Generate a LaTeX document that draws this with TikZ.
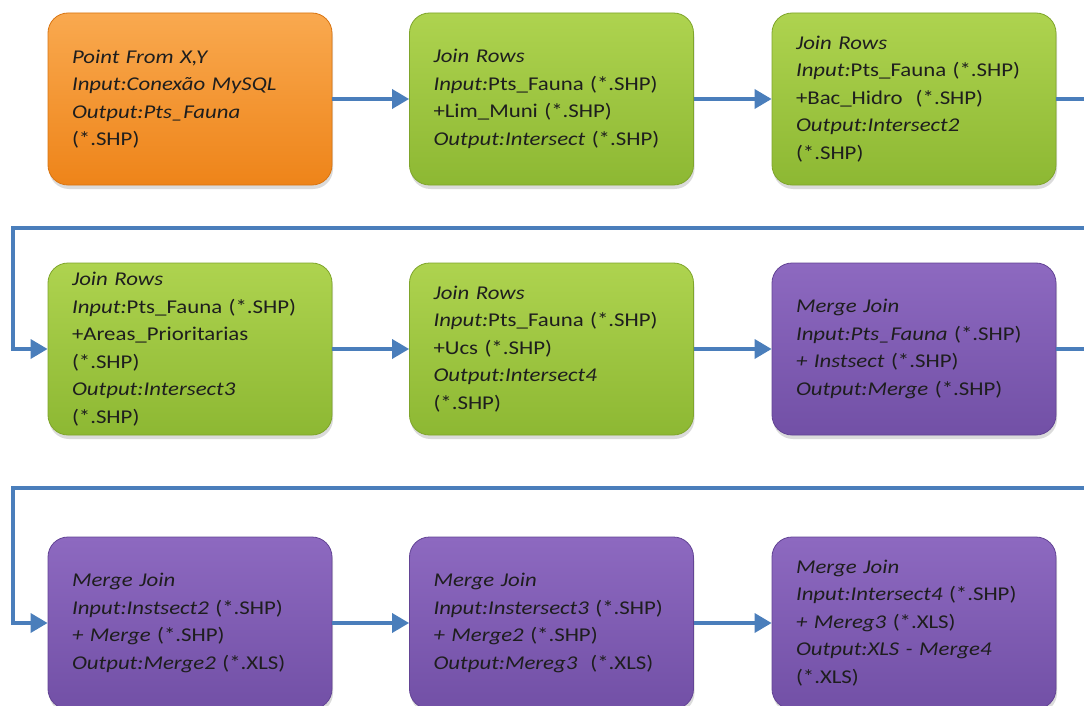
\documentclass[tikz,border=0pt]{standalone}
\usepackage{fontspec}
\setmainfont{Carlito}[FakeStretch=1.17]
\usetikzlibrary{arrows.meta,shadows}

\definecolor{flowblue}{HTML}{4A7EBB}
\definecolor{textdark}{HTML}{1E1E1E}
\definecolor{orangetop}{HTML}{F9A94F}
\definecolor{orangebot}{HTML}{EE8419}
\definecolor{orangeline}{HTML}{D97512}
\definecolor{greentop}{HTML}{AED34F}
\definecolor{greenbot}{HTML}{8DB833}
\definecolor{greenline}{HTML}{7FA52B}
\definecolor{purpletop}{HTML}{8D69C0}
\definecolor{purplebot}{HTML}{7250A6}
\definecolor{purpleline}{HTML}{634495}

\begin{document}
\begin{tikzpicture}[x=1pt,y=-1pt,
  stage/.style={rounded corners=20pt, minimum width=284pt, minimum height=172pt,
    text width=236pt, inner xsep=24pt, inner ysep=0pt, align=left,
    font=\fontsize{19.5}{27.5}\selectfont, text=textdark, line width=0.8pt,
    drop shadow={opacity=0.28, shadow xshift=1pt, shadow yshift=-4pt}},
  srcbox/.style={stage, top color=orangetop, bottom color=orangebot, draw=orangeline},
  joinbox/.style={stage, top color=greentop, bottom color=greenbot, draw=greenline},
  mergebox/.style={stage, top color=purpletop, bottom color=purplebot, draw=purpleline},
  flow/.style={draw=flowblue, line width=3.5pt, -{Triangle[length=17pt,width=19pt]}}]

\clip (0,0) rectangle (1084,706);
\fill[white] (0,0) rectangle (1084,706);

% first row
\node[srcbox] (b1) at (190,99) {\textit{Point From X,Y}\\ \textit{Input:Conexão MySQL}\\ \textit{Output:Pts\_Fauna}\\ (*.SHP)};
\node[joinbox] (b2) at (551.5,99) {\textit{Join Rows}\\ \textit{Input:}Pts\_Fauna (*.SHP)\\ +Lim\_Muni (*.SHP)\\ \textit{Output:Intersect} (*.SHP)};
\node[joinbox] (b3) at (914,99) {\textit{Join Rows}\\ \textit{Input:}Pts\_Fauna (*.SHP)\\ +Bac\_Hidro~ (*.SHP)\\ \textit{Output:Intersect2}\\ (*.SHP)};

% second row
\node[joinbox] (b4) at (190,349) {\textit{Join Rows}\\ \textit{Input:}Pts\_Fauna (*.SHP)\\ +Areas\_Prioritarias\\ (*.SHP)\\ \textit{Output:Intersect3}\\ (*.SHP)};
\node[joinbox] (b5) at (551.5,349) {\textit{Join Rows}\\ \textit{Input:}Pts\_Fauna (*.SHP)\\ +Ucs (*.SHP)\\ \textit{Output:Intersect4}\\ (*.SHP)};
\node[mergebox] (b6) at (914,349) {\textit{Merge Join}\\ \textit{Input:Pts\_Fauna} (*.SHP)\\ \textit{+ Instsect} (*.SHP)\\ \textit{Output:Merge} (*.SHP)};

% third row
\node[mergebox] (b7) at (190,623) {\textit{Merge Join}\\ \textit{Input:Instsect2} (*.SHP)\\ \textit{+ Merge} (*.SHP)\\ \textit{Output:Merge2} (*.XLS)};
\node[mergebox] (b8) at (551.5,623) {\textit{Merge Join}\\ \textit{Input:Instersect3} (*.SHP)\\ \textit{+ Merge2} (*.SHP)\\ \textit{Output:Mereg3}~ (*.XLS)};
\node[mergebox] (b9) at (914,623) {\textit{Merge Join}\\ \textit{Input:Intersect4} (*.SHP)\\ \textit{+ Mereg3} (*.XLS)\\ \textit{Output:XLS - Merge4}\\ (*.XLS)};

% turn points of the row-to-row connectors
\coordinate (r1) at (1110,228);
\coordinate (l1) at (13,228);
\coordinate (r2) at (1110,488);
\coordinate (l2) at (13,488);

\draw[flow] (b1) -- (b2);
\draw[flow] (b2) -- (b3);
\draw[flow] (b3.east) -| (r1) -- (l1) |- (b4.west);
\draw[flow] (b4) -- (b5);
\draw[flow] (b5) -- (b6);
\draw[flow] (b6.east) -| (r2) -- (l2) |- (b7.west);
\draw[flow] (b7) -- (b8);
\draw[flow] (b8) -- (b9);
\end{tikzpicture}
\end{document}
